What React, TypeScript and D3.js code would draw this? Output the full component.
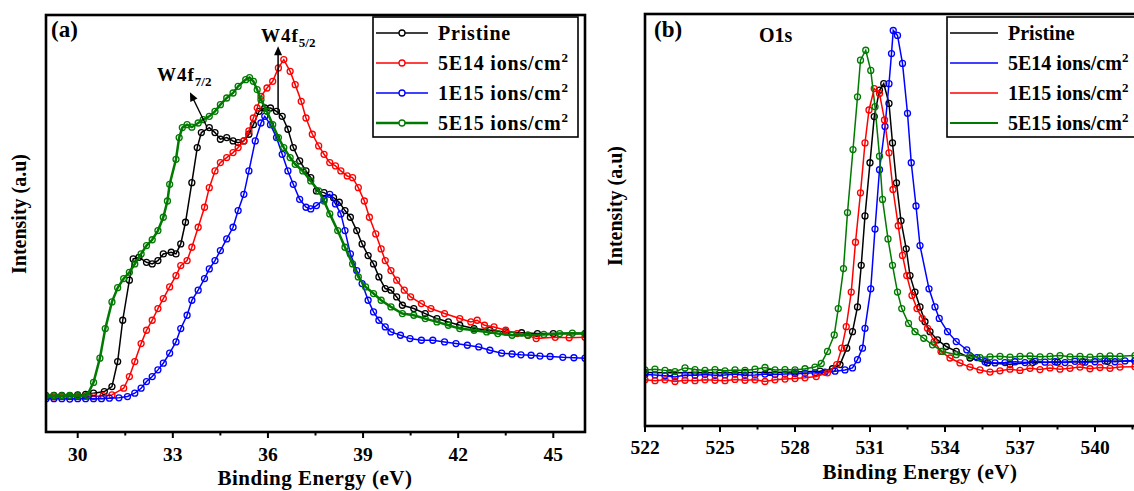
import React from "react";
import * as d3 from "d3";

// ---- panel (a) W4f spectra: [binding energy eV, intensity a.u.] ----
const pristineA: [number, number][] = [
  [29.0, 8.7], [29.25, 8.8], [29.5, 8.8], [29.75, 8.7], [30.0, 8.9], [30.25, 9.0], [30.5, 9.3], [30.84, 9.7],
  [31.08, 10.9], [31.26, 16.9], [31.42, 26.8],
  [31.63, 36.4], [31.75, 41.5], [31.93, 41.9], [32.17, 40.7], [32.35, 40.3], [32.53, 41.1], [32.7, 42.7], [32.95, 43.1],
  [33.1, 42.7], [33.25, 45.1], [33.4, 50.3], [33.6, 59.8], [33.77, 68.2], [33.9, 71.8], [34.15, 73.0], [34.33, 71.8],
  [34.5, 70.2], [34.7, 70.6], [34.9, 69.8], [35.06, 69.4], [35.24, 69.8], [35.4, 71.4], [35.54, 73.7], [35.72, 76.9],
  [35.9, 77.7], [36.08, 77.7], [36.27, 76.9], [36.45, 75.7], [36.63, 72.6], [36.8, 68.2], [37.0, 65.0], [37.2, 62.6],
  [37.35, 61.0], [37.53, 57.8], [37.77, 57.4], [38.07, 56.2], [38.25, 55.1], [38.43, 53.1], [38.6, 51.5], [38.8, 48.3],
  [38.97, 45.1], [39.16, 42.3], [39.33, 40.3], [39.5, 37.2], [39.7, 34.4], [39.88, 34.0], [40.06, 32.4], [40.24, 30.4],
  [40.6, 29.6], [40.96, 28.4], [41.33, 27.2], [41.69, 26.4], [42.05, 25.6], [42.5, 24.8], [43.0, 24.4], [43.5, 24.0],
  [44.0, 23.8], [44.5, 23.6], [45.0, 23.6], [46.0, 23.6],
];
const ions5e14A: [number, number][] = [
  [29.0, 8.5], [29.25, 8.4], [29.5, 8.5], [29.75, 8.5], [30.0, 8.5], [30.25, 8.6], [30.5, 8.5], [30.8, 8.7],
  [31.08, 8.9], [31.45, 10.5], [31.63, 13.3], [31.8, 16.9],
  [32.0, 21.2], [32.17, 24.4], [32.35, 26.8], [32.53, 29.6], [32.7, 32.0], [32.9, 34.8], [33.1, 37.5], [33.25, 39.9],
  [33.45, 41.1], [33.6, 44.3], [33.8, 49.1], [34.0, 53.9], [34.15, 58.6], [34.33, 62.6], [34.5, 64.6], [34.7, 65.8],
  [34.9, 67.0], [35.06, 68.2], [35.24, 69.8], [35.4, 72.2], [35.54, 75.3], [35.66, 77.7], [35.78, 80.5], [35.97, 82.5],
  [36.15, 84.1], [36.33, 87.3], [36.5, 89.3], [36.7, 86.5], [36.86, 83.3], [37.05, 79.3], [37.2, 75.3], [37.4, 71.4],
  [37.6, 68.6], [37.77, 66.6], [37.95, 64.6], [38.13, 63.8], [38.3, 62.6], [38.5, 61.4], [38.67, 61.0], [38.85, 58.6],
  [39.04, 55.4], [39.2, 51.5], [39.4, 47.5], [39.57, 43.9], [39.7, 41.1], [39.88, 38.7], [40.06, 36.4], [40.3, 34.0],
  [40.5, 32.4], [40.84, 30.8], [41.14, 29.6], [41.57, 28.4], [42.05, 27.2], [42.4, 26.4], [42.6, 26.8], [42.83, 25.6],
  [43.13, 25.2], [43.5, 24.4], [43.86, 23.6], [44.2, 23.2], [44.46, 22.4], [45.06, 22.7], [45.5, 22.6], [46.0, 22.7],
];
const ions1e15A: [number, number][] = [
  [29.0, 8.0], [29.25, 8.0], [29.5, 8.0], [29.75, 7.9], [30.0, 8.0], [30.25, 8.0], [30.5, 8.0], [30.75, 8.0],
  [31.0, 8.1], [31.3, 8.2], [31.57, 8.5], [31.8, 9.3], [32.0, 10.5],
  [32.17, 12.1], [32.35, 13.3], [32.53, 14.9], [32.7, 16.5], [32.9, 18.9], [33.1, 21.6], [33.25, 24.8], [33.45, 28.0],
  [33.6, 31.6], [33.8, 34.0], [34.0, 36.8], [34.15, 39.1], [34.33, 41.1], [34.5, 43.5], [34.7, 46.3], [34.9, 49.1],
  [35.06, 53.1], [35.24, 57.0], [35.4, 62.6], [35.6, 69.8], [35.78, 74.1], [35.9, 75.7], [36.08, 73.7], [36.27, 70.6],
  [36.45, 66.6], [36.63, 62.6], [36.8, 59.4], [37.0, 55.8], [37.2, 53.9], [37.35, 53.5], [37.53, 54.3], [37.77, 55.8],
  [37.95, 57.0], [38.13, 54.7], [38.3, 52.3], [38.43, 48.3], [38.6, 42.7], [38.8, 38.7], [38.97, 35.6], [39.16, 31.6],
  [39.33, 28.8], [39.5, 26.8], [39.7, 25.2], [39.88, 24.0], [40.18, 23.2], [40.48, 22.4], [40.84, 22.0], [41.2, 22.0],
  [41.57, 21.6], [41.93, 21.2], [42.29, 20.8], [42.65, 20.4], [43.0, 19.6], [43.37, 18.9], [43.7, 18.7], [43.98, 18.5],
  [44.3, 18.4], [44.58, 18.2], [44.9, 18.1], [45.3, 17.9], [45.65, 17.8], [46.0, 17.7],
];
const ions5e15A: [number, number][] = [
  [29.0, 8.7], [29.25, 8.7], [29.5, 8.7], [29.75, 8.8], [30.0, 8.7], [30.3, 8.8], [30.5, 11.9], [30.7, 17.7],
  [30.87, 24.8], [31.08, 31.2],
  [31.26, 34.6], [31.45, 36.8], [31.63, 38.3], [31.8, 40.3], [32.0, 42.7], [32.17, 44.7], [32.35, 46.1], [32.53, 48.3],
  [32.7, 51.5], [32.83, 55.4], [32.9, 59.4], [33.1, 65.4], [33.2, 70.6], [33.3, 73.0], [33.45, 73.7], [33.6, 73.1],
  [33.8, 74.1], [33.96, 74.9], [34.15, 75.7], [34.33, 76.9], [34.5, 78.5], [34.7, 80.1], [34.9, 81.3], [35.06, 82.9],
  [35.3, 84.5], [35.42, 85.0], [35.54, 84.1], [35.66, 82.1], [35.78, 79.7], [35.97, 76.9], [36.15, 73.7], [36.33, 70.6],
  [36.5, 68.2], [36.7, 65.8], [36.86, 64.2], [37.1, 62.6], [37.35, 60.2], [37.6, 57.8], [37.77, 55.4], [37.95, 52.3],
  [38.2, 48.3], [38.43, 44.3], [38.67, 40.3], [38.85, 37.2], [39.08, 34.8], [39.33, 33.2], [39.57, 31.6], [39.88, 30.0],
  [40.24, 28.4], [40.6, 28.0], [40.96, 27.2], [41.33, 26.4], [41.69, 25.6], [42.05, 24.8], [42.5, 24.4], [42.9, 24.0],
  [43.25, 23.6], [43.7, 23.2], [44.2, 23.2], [44.7, 23.4], [45.2, 23.6], [45.6, 23.7], [46.0, 23.6],
];

// ---- panel (b) O1s spectra ----
const pristineB: [number, number][] = [
  [522, 13.0], [523, 12.9], [524, 13.0], [525, 12.9], [526, 13.0], [527, 13.0], [528, 13.1], [529.0, 13.3],
  [529.5, 13.9], [529.8, 14.9], [530.07, 18.9], [530.3, 22.9], [530.5, 28.9], [530.65, 39.0], [530.8, 51.0], [531.0, 63.9],
  [531.17, 75.1], [531.38, 81.5], [531.55, 83.1], [531.76, 78.3], [531.9, 68.7], [532.06, 59.0], [532.24, 49.8], [532.45, 43.0],
  [532.6, 36.5], [532.8, 32.5], [533.0, 28.9], [533.2, 25.3], [533.4, 22.9], [533.7, 20.9], [534.05, 19.3], [534.45, 18.1],
  [535.0, 16.5], [535.7, 15.3], [536.6, 15.0], [537.5, 15.4], [538.5, 15.5], [539.5, 15.6], [540.5, 15.7], [541.6, 15.8],
];
const ions5e14B: [number, number][] = [
  [522, 12.5], [522.4, 12.4], [522.8, 12.2], [523.2, 11.9], [523.6, 12.4], [524.0, 12.3], [524.4, 12.5], [524.8, 12.3],
  [525.2, 12.4], [525.6, 12.6], [526.0, 12.3], [526.4, 12.4], [526.8, 12.6], [527.2, 12.5], [527.6, 12.6], [528.0, 12.7],
  [528.4, 12.8], [528.8, 12.9], [529.2, 13.1], [529.6, 13.3], [530.0, 13.6], [530.3, 14.1],
  [530.5, 16.1], [530.7, 18.9], [530.8, 23.7], [531.03, 33.3], [531.2, 47.8],
  [531.38, 62.2], [531.6, 72.7], [531.76, 83.1], [531.86, 90.4], [531.93, 96.0], [532.1, 94.8], [532.3, 88.0], [532.5, 75.9],
  [532.65, 63.9], [532.84, 53.4], [533.0, 43.8], [533.36, 33.3], [533.6, 28.9], [533.77, 26.1], [534.1, 22.9], [534.45, 20.5],
  [534.87, 18.5], [535.28, 16.6], [535.6, 15.6], [536.0, 15.3], [536.4, 15.4], [536.8, 15.6], [537.2, 15.4], [537.6, 15.7],
  [538.0, 15.5], [538.4, 15.6], [538.8, 15.4], [539.2, 15.7], [539.6, 15.5], [540.0, 15.6], [540.4, 15.8], [540.8, 15.6],
  [541.2, 15.8], [541.6, 15.9],
];
const ions1e15B: [number, number][] = [
  [522, 11.2], [522.4, 11.0], [522.8, 11.2], [523.2, 10.8], [523.6, 11.1], [524.0, 11.0], [524.4, 11.2], [524.8, 11.1],
  [525.2, 11.0], [525.6, 11.3], [526.0, 11.1], [526.4, 11.2], [526.8, 10.8], [527.2, 11.2], [527.6, 11.4], [528.0, 11.5],
  [528.4, 11.7], [528.85, 12.0],
  [529.3, 12.9], [529.67, 14.9], [529.87, 18.9], [530.05, 24.1], [530.25, 32.5], [530.42, 44.6], [530.62, 56.6], [530.8, 68.7],
  [530.96, 76.7], [531.17, 81.9], [531.38, 80.7], [531.58, 74.3], [531.76, 66.3], [531.92, 57.4], [532.13, 48.6], [532.3, 41.4],
  [532.47, 36.5], [532.68, 31.7], [532.88, 28.5], [533.09, 26.1], [533.3, 23.7], [533.57, 20.5], [533.84, 18.1], [534.2, 16.5],
  [534.6, 15.3], [535.0, 14.3], [535.4, 13.6], [535.8, 13.1], [536.2, 13.4], [536.6, 13.8], [537.0, 13.5], [537.4, 14.0],
  [537.8, 13.7], [538.2, 14.1], [538.6, 13.8], [539.0, 14.0], [539.4, 14.3], [539.8, 13.9], [540.2, 14.2], [540.6, 14.0],
  [541.0, 14.3], [541.6, 14.4],
];
const ions5e15B: [number, number][] = [
  [522, 13.6], [522.4, 13.8], [522.8, 13.5], [523.2, 13.2], [523.6, 14.1], [524.0, 13.7], [524.4, 13.5], [524.8, 13.7],
  [525.2, 13.4], [525.6, 13.6], [526.0, 13.5], [526.4, 13.8], [526.8, 14.2], [527.2, 13.6], [527.6, 13.7], [528.0, 13.6],
  [528.4, 13.9], [528.8, 14.3],
  [529.05, 15.2], [529.3, 18.1], [529.57, 22.1], [529.73, 28.5], [529.94, 38.2], [530.1, 51.8], [530.32, 67.1],
  [530.5, 79.9], [530.62, 88.8], [530.83, 91.2], [531.03, 86.3], [531.2, 77.5], [531.38, 65.5], [531.5, 55.0], [531.72, 45.4],
  [531.9, 39.0], [532.1, 32.5], [532.27, 28.5], [532.54, 24.9], [532.8, 22.9], [533.15, 21.3], [533.5, 19.7], [533.9, 18.1],
  [534.45, 17.3], [535.0, 17.0], [535.4, 16.6], [535.8, 16.8], [536.2, 16.9], [536.6, 16.7], [537.0, 16.9], [537.4, 17.0],
  [537.8, 16.8], [538.2, 16.9], [538.6, 17.1], [539.0, 16.8], [539.4, 16.9], [539.8, 16.7], [540.2, 16.9], [540.6, 17.0],
  [541.0, 16.9], [541.6, 17.1],
];

const legendA = ["Pristine", "5E14", "1E15", "5E15"];
const legendB = ["Pristine", "5E14", "1E15", "5E15"];
const colorsA = ["#000000", "#ff0000", "#0000ff", "#007a00"];
const colorsB = ["#000000", "#0000ff", "#ff0000", "#007a00"];
const ticksA = [30, 33, 36, 39, 42, 45];
const minorA = [31.5, 34.5, 37.5, 40.5, 43.5];
const ticksB = [522, 525, 528, 531, 534, 537, 540];
const minorB = [523.5, 526.5, 529.5, 532.5, 535.5, 538.5, 541.5];

const FONT = "'Liberation Serif', 'Times New Roman', serif";

type PanelProps = {
  left: number; right: number; top: number; bottom: number;
  xDomain: [number, number];
  series: [number, number][][];
  colors: string[];
  widths: number[];
  ticks: number[];
  minor: number[];
  titleX: number;
  tickY: number; titleY: number;
  yTitleX: number; yTitleY: number;
};

const Panel = (p: PanelProps) => {
  const x = d3.scaleLinear().domain(p.xDomain).range([p.left, p.right]);
  const y = d3.scaleLinear().domain([0, 100]).range([p.bottom, p.top]);
  const line = d3.line<[number, number]>().x((d) => x(d[0])).y((d) => y(d[1]));
  const clipId = `clip-${p.left}`;
  return (
    <g>
      <defs>
        <clipPath id={clipId}>
          <rect x={p.left} y={p.top} width={p.right - p.left} height={p.bottom - p.top} />
        </clipPath>
      </defs>
      <g clipPath={`url(#${clipId})`}>
        {p.series.map((s, i) => (
          <g key={i}>
            <path d={line(s) || ""} fill="none" stroke={p.colors[i]} strokeWidth={p.widths[i]} />
            {s.map((d, j) => (
              <circle key={j} cx={x(d[0])} cy={y(d[1])} r={3} fill="none" stroke={p.colors[i]} strokeWidth={1.3} />
            ))}
          </g>
        ))}
      </g>
      <rect x={p.left} y={p.top} width={p.right - p.left} height={p.bottom - p.top}
        fill="none" stroke="#000" strokeWidth={2.6} />
      {p.ticks.map((t) => (
        <g key={t}>
          <line x1={x(t)} x2={x(t)} y1={p.bottom} y2={p.bottom + 6} stroke="#000" strokeWidth={2} />
          <text x={x(t)} y={p.tickY} textAnchor="middle" fontFamily={FONT} fontWeight="bold" fontSize={19.5}>{t}</text>
        </g>
      ))}
      {p.minor.map((t) => (
        <line key={t} x1={x(t)} x2={x(t)} y1={p.bottom} y2={p.bottom + 3.5} stroke="#000" strokeWidth={2} />
      ))}
      <text x={p.titleX} y={p.titleY} textAnchor="middle" fontFamily={FONT} fontWeight="bold" fontSize={21}
        letterSpacing={0.5}>
        Binding Energy (eV)
      </text>
      <text transform={`translate(${p.yTitleX},${p.yTitleY}) rotate(-90)`} textAnchor="middle"
        fontFamily={FONT} fontWeight="bold" fontSize={20}>
        Intensity (a.u)
      </text>
    </g>
  );
};

const Legend = ({ x0, y0, w, labels, colors, widths, markers, lineLen, textX, spacing }: any) => (
  <g fontFamily={FONT} fontWeight="bold" fontSize={20}>
    <rect x={x0} y={y0} width={w} height={120} fill="#fff" stroke="#000" strokeWidth={1.6} />
    {labels.map((l: string, i: number) => {
      const cy = y0 + 16 + i * 30;
      return (
        <g key={l}>
          <line x1={x0 + 3} x2={x0 + 3 + lineLen} y1={cy} y2={cy} stroke={colors[i]} strokeWidth={widths[i]} />
          {markers && <circle cx={x0 + 3 + lineLen / 2} cy={cy} r={3} fill="#fff" stroke={colors[i]} strokeWidth={1.3} />}
          <text x={textX} y={cy + 7} letterSpacing={spacing}>
            {l === "Pristine" ? l : (
              <>
                {l} ions/cm<tspan dy={-8} fontSize={13}>2</tspan>
              </>
            )}
          </text>
        </g>
      );
    })}
  </g>
);

export default function App() {
  const xa = d3.scaleLinear().domain([29, 46]).range([46, 585]);
  const ya = d3.scaleLinear().domain([0, 100]).range([432, 15]);
  const arrowA = [36.32, 76.5, 92.5];
  const arrowB = [34.08, 73.1, 33.54, 81.5];
  const ax = xa(arrowA[0]);
  const b1x = xa(arrowB[0]), b1y = ya(arrowB[1]), b2x = xa(arrowB[2]), b2y = ya(arrowB[3]);
  const ang = Math.atan2(b2y - b1y, b2x - b1x);
  const head = (tx: number, ty: number, a: number) => {
    const L = 9, W = 4;
    const bx = tx - L * Math.cos(a), by = ty - L * Math.sin(a);
    return `M${tx},${ty} L${bx + W * Math.sin(a)},${by - W * Math.cos(a)} L${bx - W * Math.sin(a)},${by + W * Math.cos(a)} Z`;
  };
  return (
    <svg width={1134} height={491} style={{ position: "absolute", left: 0, top: 0, background: "#fff" }}>
      <Panel left={46} right={585} top={15} bottom={432} xDomain={[29, 46]}
        series={[pristineA, ions5e14A, ions1e15A, ions5e15A]} colors={colorsA} widths={[1.5, 1.5, 1.5, 2.5]}
        ticks={ticksA} minor={minorA} titleX={315} tickY={461} titleY={485} yTitleX={26} yTitleY={214} />
      <Panel left={645} right={1145} top={14} bottom={426} xDomain={[522, 542]}
        series={[pristineB, ions5e14B, ions1e15B, ions5e15B]} colors={colorsB} widths={[1.5, 1.5, 1.5, 1.5]}
        ticks={ticksB} minor={minorB} titleX={920} tickY={454} titleY={479} yTitleX={622} yTitleY={206} />

      {/* annotations panel a */}
      <line x1={ax} x2={ax} y1={ya(arrowA[1])} y2={ya(arrowA[2]) + 6} stroke="#000" strokeWidth={1.5} />
      <path d={head(ax, ya(arrowA[2]), -Math.PI / 2)} fill="#000" />
      <line x1={b1x} y1={b1y} x2={b2x - 5 * Math.cos(ang)} y2={b2y - 5 * Math.sin(ang)} stroke="#000" strokeWidth={1.3} />
      <path d={head(b2x, b2y, ang)} fill="#000" />
      <g fontFamily={FONT} fontWeight="bold" fontSize={19}>
        <text x={261} y={42} letterSpacing={1}>W4f<tspan dy={5} fontSize={13} letterSpacing={0}>5/2</tspan></text>
        <text x={157} y={81} letterSpacing={1}>W4f<tspan dy={5} fontSize={13} letterSpacing={0}>7/2</tspan></text>
        <text x={51} y={37} fontSize={23}>(a)</text>
        <text x={654} y={37} fontSize={23}>(b)</text>
        <text x={759} y={42} fontSize={20}>O1s</text>
      </g>

      <Legend x0={373} y0={17} w={205} labels={legendA} colors={colorsA} widths={[1.5, 1.5, 1.5, 2.5]}
        markers={true} lineLen={52} textX={438} spacing={0.8} />
      <Legend x0={947} y0={17} w={220} labels={legendB} colors={colorsB} widths={[1.5, 1.5, 1.5, 2]}
        markers={false} lineLen={48} textX={1008} spacing={0} />
    </svg>
  );
}
